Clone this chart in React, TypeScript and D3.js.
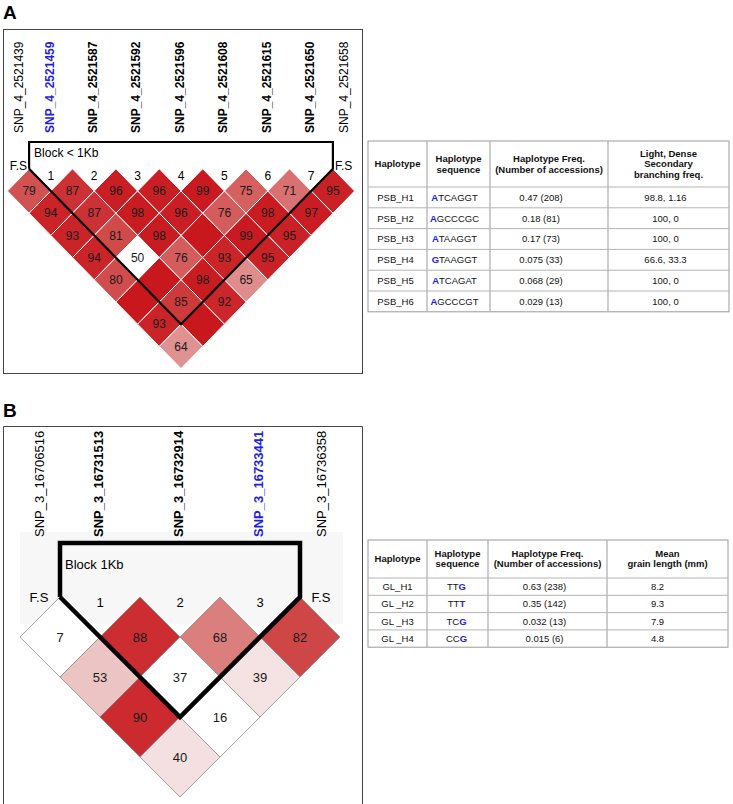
import React from "react";
import * as d3 from "d3";

const FONT = "'Liberation Sans', Arial, Helvetica, sans-serif";
const BLUE = "#1e1ee0";

// ---------- Panel A data ----------
const snpA = [
  "SNP_4_2521439", "SNP_4_2521459", "SNP_4_2521587", "SNP_4_2521592", "SNP_4_2521596",
  "SNP_4_2521608", "SNP_4_2521615", "SNP_4_2521650", "SNP_4_2521658",
];
const snpKindA = ["plain", "focus", "bold", "bold", "bold", "bold", "bold", "bold", "plain"];
// D' x 100 per diagonal row (null = 100, drawn blank)
const ldRowsA: (number | null)[][] = [
  [79, 87, 96, 96, 99, 75, 71, 95],
  [94, 87, 98, 96, 76, 98, 97],
  [93, 81, 98, null, 99, 95],
  [94, 50, 76, 93, 95],
  [80, null, 98, 65],
  [null, 85, 92],
  [93, null],
  [64],
];
// 1 = LOD >= 2 (shaded), 0 = weak (white)
const sigRowsA = [
  [1, 1, 1, 1, 1, 1, 1, 1],
  [1, 1, 1, 1, 1, 1, 1],
  [1, 1, 1, 1, 1, 1],
  [1, 0, 1, 1, 1],
  [1, 1, 1, 1],
  [1, 1, 1],
  [1, 1],
  [1],
];
const blockA = [1, 7];
const blockLabelA = "Block < 1Kb";

// ---------- Panel B data ----------
const snpB = ["SNP_3_16706516", "SNP_3_16731513", "SNP_3_16732914", "SNP_3_16733441", "SNP_3_16736358"];
const snpKindB = ["plain", "bold", "bold", "focus", "plain"];
const ldRowsB: (number | null)[][] = [
  [7, 88, 68, 82],
  [53, 37, 39],
  [90, 16],
  [40],
];
const sigRowsB = [
  [0, 1, 1, 1],
  [1, 0, 1],
  [1, 0],
  [1],
];
const blockB = [1, 3];
const blockLabelB = "Block 1Kb";

// ---------- Tables ----------
const headersA = ["Haplotype", "Haplotype\nsequence", "Haplotype Freq.\n(Number of accessions)", "Light, Dense\nSecondary\nbranching freq."];
const haploA = ["PSB_H1", "PSB_H2", "PSB_H3", "PSB_H4", "PSB_H5", "PSB_H6"];
const seqA = ["ATCAGGT", "AGCCCGC", "ATAAGGT", "GTAAGGT", "ATCAGAT", "AGCCCGT"];
const freqA = ["0.47 (208)", "0.18 (81)", "0.17 (73)", "0.075 (33)", "0.068 (29)", "0.029 (13)"];
const branchA = ["98.8, 1.16", "100, 0", "100, 0", "66.6, 33.3", "100, 0", "100, 0"];

const headersB = ["Haplotype", "Haplotype\nsequence", "Haplotype Freq.\n(Number of accessions)", "Mean\ngrain length (mm)"];
const haploB = ["GL_H1", "GL _H2", "GL _H3", "GL _H4"];
const seqB = ["TTG", "TTT", "TCG", "CCG"];
const freqB = ["0.63 (238)", "0.35 (142)", "0.032 (13)", "0.015 (6)"];
const lengthB = ["8.2", "9.3", "7.9", "4.8"];

const ldColor = d3
  .scaleLinear<string>()
  .domain([39, 53, 65, 68, 76, 82, 88, 100])
  .range(["#f5e2e2", "#ecc4c4", "#df8c8c", "#da7e7e", "#d45c5c", "#cf4646", "#cb2d31", "#c8181e"])
  .clamp(true);

type LDProps = {
  snps: string[];
  kinds: string[];
  rows: (number | null)[][];
  sig: number[][];
  block: number[];
  blockLabel: string;
  range: [number, number];
  hy: number;
  row1Y: number;
  blockTopY: number;
  blockStroke: number;
  blockLabelDy: number;
  labelBottom: number;
  labelSize: number;
  endInset: number;
  numSize: number;
  cellStroke: string;
  cellStrokeW: number;
  numDy: number;
  fsDy: number;
};

function LDPanel(p: LDProps) {
  const n = p.snps.length;
  const m = d3.scaleLinear().domain([0, n - 1]).range(p.range);
  const hx = (m(1) - m(0)) / 2;
  const hy = p.hy;
  const labelX = (i: number) => (i === 0 ? m(i) + p.endInset : i === n - 1 ? m(i) - p.endInset : m(i) - 1.5);

  const cells: { cx: number; cy: number; v: number | null; s: number; key: string }[] = [];
  p.rows.forEach((row, r) =>
    row.forEach((v, i) => {
      const j = i + r + 1;
      cells.push({ cx: (m(i) + m(j)) / 2, cy: p.row1Y + r * hy, v, s: p.sig[r][i], key: `${r}-${i}` });
    })
  );

  const [b0, b1] = p.block;
  const topCornerY = p.row1Y - hy;
  const lx = (m(b0 - 1) + m(b0)) / 2;
  const rx = (m(b1) + m(b1 + 1)) / 2;
  const bx = (m(b0) + m(b1)) / 2;
  const by = p.row1Y + (b1 - b0) * hy;
  const blockPath = d3.line()([
    [lx, topCornerY],
    [lx, p.blockTopY],
    [rx, p.blockTopY],
    [rx, topCornerY],
    [bx, by],
    [lx, topCornerY],
  ] as [number, number][]);

  const blockIdx = d3.range(b0, b1 + 1);

  return (
    <g>
      {p.snps.map((s, i) => (
        <text
          key={s}
          transform={`translate(${labelX(i)},${p.labelBottom}) rotate(-90)`}
          dy="0.36em"
          fontSize={p.labelSize}
          fontWeight={p.kinds[i] === "plain" ? "normal" : "bold"}
          fill={p.kinds[i] === "focus" ? BLUE : "#000"}
        >
          {s}
        </text>
      ))}
      {cells.map((c) => (
        <g key={c.key}>
          <path
            d={`M${c.cx},${c.cy - hy}L${c.cx + hx},${c.cy}L${c.cx},${c.cy + hy}L${c.cx - hx},${c.cy}Z`}
            fill={c.s ? ldColor(c.v ?? 100) : "#ffffff"}
            stroke={p.cellStroke}
            strokeWidth={p.cellStrokeW}
          />
          {c.v !== null && (
            <text x={c.cx} y={c.cy + p.numSize * 0.35} textAnchor="middle" fontSize={p.numSize} fill="#1a1a1a">
              {c.v}
            </text>
          )}
        </g>
      ))}
      <path d={blockPath ?? ""} fill="none" stroke="#000" strokeWidth={p.blockStroke} strokeLinejoin="miter" />
      <text x={lx + 5} y={p.blockTopY + p.blockLabelDy} fontSize={p.numSize} fill="#000">
        {p.blockLabel}
      </text>
      {blockIdx.map((k, idx) => (
        <text key={k} x={m(k)} y={topCornerY + p.numDy} textAnchor="middle" fontSize={p.numSize}>
          {idx + 1}
        </text>
      ))}
      <text x={labelX(0)} y={topCornerY + p.fsDy} textAnchor="middle" fontSize={p.numSize}>F.S</text>
      <text x={labelX(n - 1)} y={topCornerY + p.fsDy} textAnchor="middle" fontSize={p.numSize}>F.S</text>
    </g>
  );
}

type TableProps = {
  cols: number[];
  top: number;
  headH: number;
  rowH: number;
  headers: string[];
  headLineH: number;
  columns: string[][];
  seqCol: number;
  blueFirst: boolean;
  dataDx: number[];
};

function HapTable(p: TableProps) {
  const nRows = p.columns[0].length;
  const yRow = d3.scaleLinear().domain([0, nRows]).range([p.top + p.headH, p.top + p.headH + nRows * p.rowH]);
  const bottom = yRow(nRows);
  const left = p.cols[0];
  const right = p.cols[p.cols.length - 1];
  const hCenter = p.top + p.headH / 2;
  return (
    <g fontFamily={FONT}>
      <rect x={left} y={p.top} width={right - left} height={bottom - p.top} fill="#fff" stroke="#9a9a9a" strokeWidth={1} />
      {p.cols.slice(1, -1).map((x) => (
        <line key={x} x1={x} x2={x} y1={p.top} y2={bottom} stroke="#ababab" strokeWidth={1.2} />
      ))}
      {d3.range(0, nRows).map((r) => (
        <line key={r} x1={left} x2={right} y1={yRow(r)} y2={yRow(r)} stroke="#b4b4b4" strokeWidth={1} />
      ))}
      {p.headers.map((h, c) => {
        const lines = h.split("\n");
        const cx = (p.cols[c] + p.cols[c + 1]) / 2;
        const y0 = hCenter - ((lines.length - 1) * p.headLineH) / 2 + 3.4;
        return (
          <text key={c} x={cx} y={y0} textAnchor="middle" fontSize={9.5} fontWeight="bold" fill="#111">
            {lines.map((l, k) => (
              <tspan key={k} x={cx} y={y0 + k * p.headLineH}>
                {l}
              </tspan>
            ))}
          </text>
        );
      })}
      {p.columns.map((col, c) =>
        col.map((v, r) => {
          const cx = (p.cols[c] + p.cols[c + 1]) / 2 + p.dataDx[c];
          const cy = (yRow(r) + yRow(r + 1)) / 2 + 3.4;
          if (c === p.seqCol) {
            const first = p.blueFirst ? v.slice(0, 1) : v.slice(0, -1);
            const last = p.blueFirst ? v.slice(1) : v.slice(-1);
            return (
              <text key={`${c}-${r}`} x={cx} y={cy} textAnchor="middle" fontSize={9.5} fill="#111">
                {p.blueFirst ? (
                  <>
                    <tspan fill={BLUE} fontWeight="bold">{first}</tspan>
                    <tspan>{last}</tspan>
                  </>
                ) : (
                  <>
                    <tspan>{first}</tspan>
                    <tspan fill={BLUE} fontWeight="bold">{last}</tspan>
                  </>
                )}
              </text>
            );
          }
          return (
            <text key={`${c}-${r}`} x={cx} y={cy} textAnchor="middle" fontSize={9.5} fill="#111">
              {v}
            </text>
          );
        })
      )}
    </g>
  );
}

export default function App() {
  return (
    <div style={{ position: "absolute", left: 0, top: 0 }}>
      <svg width={733} height={804} style={{ display: "block", fontFamily: FONT }}>
        <rect width={733} height={804} fill="#fff" />
        <text x={3} y={18.5} fontSize={19} fontWeight="bold">A</text>
        <text x={3} y={417} fontSize={19} fontWeight="bold">B</text>

        {/* Panel A */}
        <rect x={3.5} y={29.5} width={359} height={344} fill="#fff" stroke="#444" strokeWidth={1} />
        <LDPanel
          snps={snpA}
          kinds={snpKindA}
          rows={ldRowsA}
          sig={sigRowsA}
          block={blockA}
          blockLabel={blockLabelA}
          range={[7.4, 354.6]}
          hy={22.2}
          row1Y={191}
          blockTopY={142}
          blockStroke={2.2}
          blockLabelDy={15}
          labelBottom={133}
          labelSize={12}
          endInset={11}
          numSize={12}
          cellStroke="#ffffff"
          cellStrokeW={1}
          numDy={11}
          fsDy={1.5}
        />

        {/* Panel B */}
        <path d="M3.5,806V426.5H362.5V806" fill="none" stroke="#444" strokeWidth={1} />
        <rect x={20} y={532} width={323} height={92} fill="#f7f7f7" />
        <LDPanel
          snps={snpB}
          kinds={snpKindB}
          rows={ldRowsB}
          sig={sigRowsB}
          block={blockB}
          blockLabel={blockLabelB}
          range={[20, 340]}
          hy={40}
          row1Y={637}
          blockTopY={543}
          blockStroke={4.5}
          blockLabelDy={26}
          labelBottom={537}
          labelSize={13}
          endInset={19}
          numSize={13}
          cellStroke="#8a8a8a"
          cellStrokeW={0.8}
          numDy={10}
          fsDy={4.5}
        />

        <HapTable
          cols={[368, 427, 490, 608, 729]}
          top={141}
          headH={46}
          rowH={20.8}
          headers={headersA}
          headLineH={10.5}
          columns={[haploA, seqA, freqA, branchA]}
          seqCol={1}
          blueFirst={true}
          dataDx={[-2, -4, -8, -3]}
        />
        <HapTable
          cols={[368, 427, 488, 607, 728]}
          top={540}
          headH={38}
          rowH={17.3}
          headers={headersB}
          headLineH={10}
          columns={[haploB, seqB, freqB, lengthB]}
          seqCol={1}
          blueFirst={false}
          dataDx={[0, -1, -3, -10]}
        />
      </svg>
    </div>
  );
}
